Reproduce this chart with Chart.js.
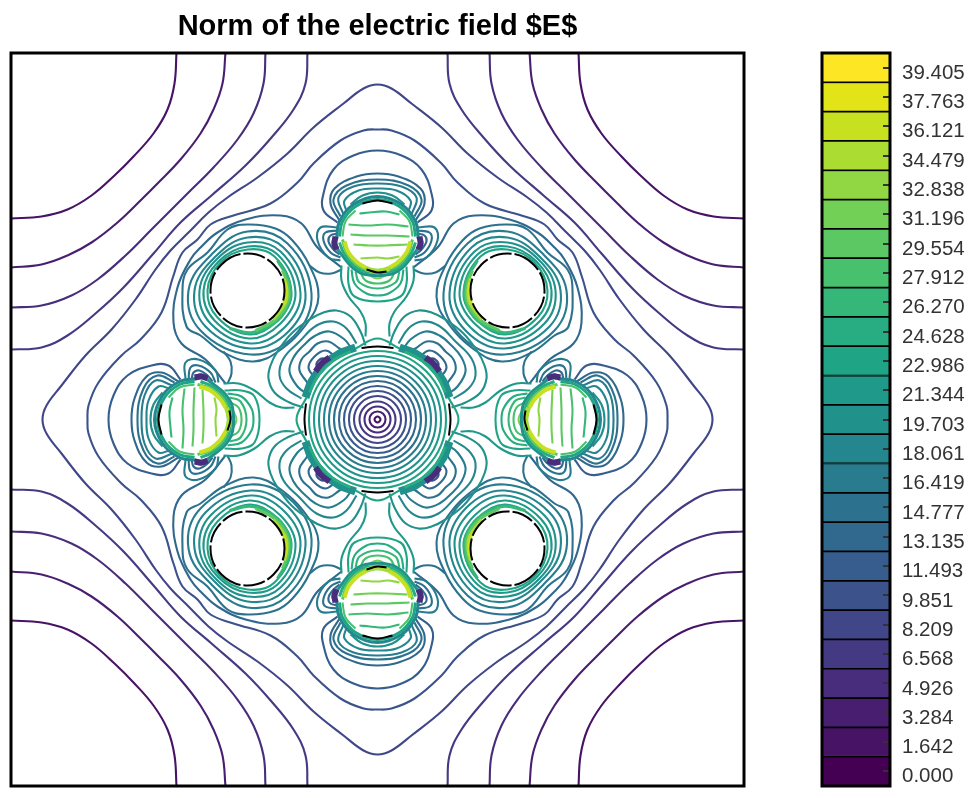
<!DOCTYPE html>
<html>
<head>
<meta charset="utf-8">
<title>Norm of the electric field</title>
<script src="https://cdn.jsdelivr.net/npm/chart.js@4"></script>
<style>
  html, body { margin: 0; padding: 0; background: #fff; }
  canvas { position: absolute; top: 0; }
  #field { left: 0; }
  #colorbar { left: 760px; }
</style>
</head>
<body>
<canvas id="field" width="760" height="798"></canvas>
<canvas id="colorbar" width="215" height="798"></canvas>
<script>
// colorbar, bottom to top
const tickLabels = ['0.000','1.642','3.284','4.926','6.568','8.209','9.851','11.493','13.135','14.777','16.419','18.061','19.703','21.344','22.986','24.628','26.270','27.912','29.554','31.196','32.838','34.479','36.121','37.763','39.405'];
const levelColors = ['#440154','#471365','#481f70','#472d7b','#443a83','#404688','#3b528b','#365d8d','#31688e','#2c728e','#287c8e','#24868e','#21918c','#1f9a8a','#20a486','#27ad81','#35b779','#47c16e','#5cc863','#73d056','#90d743','#aadc32','#c7e020','#e3e418','#fde725'];

// contours, flat x,y lists, origin in the middle of the plot
const cornerLevels = [1,2,3,4];
const cornerNE = [
[201,367,203,336,210,310,224,286,244,263,263,244,286,224,310,210,336,203,367,201],
[152,367,155,336,164,310,177,286,197,260,220,236,236,220,260,197,286,177,310,164,336,155,367,152],
[112,367,114,336,124,306,140,280,164,252,190,226,208,208,226,190,252,164,280,140,306,124,336,114,367,112],
[70,367,72,336,84,310,106,282,132,254,166,224,197,197,224,166,254,132,282,106,310,84,336,72,367,70]];
const cornerNW = [
[-201,367,-203,336,-210,310,-224,286,-244,263,-263,244,-286,224,-310,210,-336,203,-367,201],
[-152,367,-155,336,-164,310,-177,286,-197,260,-220,236,-236,220,-260,197,-286,177,-310,164,-336,155,-367,152],
[-112,367,-114,336,-124,306,-140,280,-164,252,-190,226,-208,208,-226,190,-252,164,-280,140,-306,124,-336,114,-367,112],
[-70,367,-72,336,-84,310,-106,282,-132,254,-166,224,-197,197,-224,166,-254,132,-282,106,-310,84,-336,72,-367,70]];
const cornerSE = [
[201,-367,203,-336,210,-310,224,-286,244,-263,263,-244,286,-224,310,-210,336,-203,367,-201],
[152,-367,155,-336,164,-310,177,-286,197,-260,220,-236,236,-220,260,-197,286,-177,310,-164,336,-155,367,-152],
[112,-367,114,-336,124,-306,140,-280,164,-252,190,-226,208,-208,226,-190,252,-164,280,-140,306,-124,336,-114,367,-112],
[70,-367,72,-336,84,-310,106,-282,132,-254,166,-224,197,-197,224,-166,254,-132,282,-106,310,-84,336,-72,367,-70]];
const cornerSW = [
[-201,-367,-203,-336,-210,-310,-224,-286,-244,-263,-263,-244,-286,-224,-310,-210,-336,-203,-367,-201],
[-152,-367,-155,-336,-164,-310,-177,-286,-197,-260,-220,-236,-236,-220,-260,-197,-286,-177,-310,-164,-336,-155,-367,-152],
[-112,-367,-114,-336,-124,-306,-140,-280,-164,-252,-190,-226,-208,-208,-226,-190,-252,-164,-280,-140,-306,-124,-336,-114,-367,-112],
[-70,-367,-72,-336,-84,-310,-106,-282,-132,-254,-166,-224,-197,-197,-224,-166,-254,-132,-282,-106,-310,-84,-336,-72,-367,-70]];

const outlineLevels = [5,6];
const outlines = [
[0,335,14,331,34,316,64,292,90,266,120,242,150,222,169,207,188,188,207,169,222,150,242,120,266,90,292,64,316,34,331,14,335,0,
331,-14,316,-34,292,-64,266,-90,242,-120,222,-150,207,-169,188,-188,169,-207,150,-222,120,-242,90,-266,64,-292,34,-316,14,-331,0,-335,
-14,-331,-34,-316,-64,-292,-90,-266,-120,-242,-150,-222,-169,-207,-188,-188,-207,-169,-222,-150,-242,-120,-266,-90,-292,-64,-316,-34,-331,-14,-335,0,
-331,14,-316,34,-292,64,-266,90,-242,120,-222,150,-207,169,-188,188,-169,207,-150,222,-120,242,-90,266,-64,292,-34,316,-14,331,0,335],
[0,290,14,289,37,279,64,256,80,237,107,216,144,204,167,195,180,180,195,167,204,144,216,107,237,80,256,64,279,37,289,14,290,0,
289,-14,279,-37,256,-64,237,-80,216,-107,204,-144,195,-167,180,-180,167,-195,144,-204,107,-216,80,-237,64,-256,37,-279,14,-289,0,-290,
-14,-289,-37,-279,-64,-256,-80,-237,-107,-216,-144,-204,-167,-195,-180,-180,-195,-167,-204,-144,-216,-107,-237,-80,-256,-64,-279,-37,-289,-14,-290,0,
-289,14,-279,37,-256,64,-237,80,-216,107,-204,144,-195,167,-180,180,-167,195,-144,204,-107,216,-80,237,-64,256,-37,279,-14,289,0,290]];

const holeLevels = [8,9,10,11,12,13,14,16,18,21,22];
const holeWidths = [2.1,2.1,2.1,2.1,2.1,2.1,2.1,3,3,3,3];
const holeNE = [
[36,152,60,172,76,196,97,204,132,200,160,187,177,172,187,160,200,132,204,97,196,76,172,60,152,36],
[195,129,190,150,170,167,150,190,130,195,102,191,85,179,68,154,59,123,70,97,98,69,124,58,154,67,177,84,191,93,195,129],
[189,129,166,165,130,188,90,176,66,126,84,83,127,65,177,89,189,129],
[183,129,163,162,130,182,94,172,72,126,89,88,127,71,172,93,183,129],
[178,129,161,160,130,177,97,168,77,126,93,92,127,76,167,96,178,129],
[174,129,159,158,130,173,100,165,82,127,97,96,128,81,163,99,174,129],
[170,129,157,157,130,170,103,163,86,127,100,99,128,85,160,102,170,129],
[100,159,89,139,88,119,100,99,125,87,148,91],
[95,149,89.5,134,90,117,102,100,122,89],
[93,141,90.5,129,92,117,104,100],
[92,137,91.5,127,94,115]];
const holeNW = [
[-36,152,-60,172,-76,196,-97,204,-132,200,-160,187,-177,172,-187,160,-200,132,-204,97,-196,76,-172,60,-152,36],
[-195,129,-190,150,-170,167,-150,190,-130,195,-102,191,-85,179,-68,154,-59,123,-70,97,-98,69,-124,58,-154,67,-177,84,-191,93,-195,129],
[-189,129,-166,165,-130,188,-90,176,-66,126,-84,83,-127,65,-177,89,-189,129],
[-183,129,-163,162,-130,182,-94,172,-72,126,-89,88,-127,71,-172,93,-183,129],
[-178,129,-161,160,-130,177,-97,168,-77,126,-93,92,-127,76,-167,96,-178,129],
[-174,129,-159,158,-130,173,-100,165,-82,127,-97,96,-128,81,-163,99,-174,129],
[-170,129,-157,157,-130,170,-103,163,-86,127,-100,99,-128,85,-160,102,-170,129],
[-100,159,-89,139,-88,119,-100,99,-125,87,-148,91],
[-95,149,-89.5,134,-90,117,-102,100,-122,89],
[-93,141,-90.5,129,-92,117,-104,100],
[-92,137,-91.5,127,-94,115]];
const holeSE = [
[36,-152,60,-172,76,-196,97,-204,132,-200,160,-187,177,-172,187,-160,200,-132,204,-97,196,-76,172,-60,152,-36],
[195,-129,190,-150,170,-167,150,-190,130,-195,102,-191,85,-179,68,-154,59,-123,70,-97,98,-69,124,-58,154,-67,177,-84,191,-93,195,-129],
[189,-129,166,-165,130,-188,90,-176,66,-126,84,-83,127,-65,177,-89,189,-129],
[183,-129,163,-162,130,-182,94,-172,72,-126,89,-88,127,-71,172,-93,183,-129],
[178,-129,161,-160,130,-177,97,-168,77,-126,93,-92,127,-76,167,-96,178,-129],
[174,-129,159,-158,130,-173,100,-165,82,-127,97,-96,128,-81,163,-99,174,-129],
[170,-129,157,-157,130,-170,103,-163,86,-127,100,-99,128,-85,160,-102,170,-129],
[100,-159,89,-139,88,-119,100,-99,125,-87,148,-91],
[95,-149,89.5,-134,90,-117,102,-100,122,-89],
[93,-141,90.5,-129,92,-117,104,-100],
[92,-137,91.5,-127,94,-115]];
const holeSW = [
[-36,-152,-60,-172,-76,-196,-97,-204,-132,-200,-160,-187,-177,-172,-187,-160,-200,-132,-204,-97,-196,-76,-172,-60,-152,-36],
[-195,-129,-190,-150,-170,-167,-150,-190,-130,-195,-102,-191,-85,-179,-68,-154,-59,-123,-70,-97,-98,-69,-124,-58,-154,-67,-177,-84,-191,-93,-195,-129],
[-189,-129,-166,-165,-130,-188,-90,-176,-66,-126,-84,-83,-127,-65,-177,-89,-189,-129],
[-183,-129,-163,-162,-130,-182,-94,-172,-72,-126,-89,-88,-127,-71,-172,-93,-183,-129],
[-178,-129,-161,-160,-130,-177,-97,-168,-77,-126,-93,-92,-127,-76,-167,-96,-178,-129],
[-174,-129,-159,-158,-130,-173,-100,-165,-82,-127,-97,-96,-128,-81,-163,-99,-174,-129],
[-170,-129,-157,-157,-130,-170,-103,-163,-86,-127,-100,-99,-128,-85,-160,-102,-170,-129],
[-100,-159,-89,-139,-88,-119,-100,-99,-125,-87,-148,-91],
[-95,-149,-89.5,-134,-90,-117,-102,-100,-122,-89],
[-93,-141,-90.5,-129,-92,-117,-104,-100],
[-92,-137,-91.5,-127,-94,-115]];
const holeEdges = [
[167,129,156,155,130,166,104,155,93,129,104,103,130,92,156,103,167,129],
[-167,129,-156,155,-130,166,-104,155,-93,129,-104,103,-130,92,-156,103,-167,129],
[167,-129,156,-155,130,-166,104,-155,93,-129,104,-103,130,-92,156,-103,167,-129],
[-167,-129,-156,-155,-130,-166,-104,-155,-93,-129,-104,-103,-130,-92,-156,-103,-167,-129]];

const discLevels = [1,2,3,4,5,6,7,8,9,10,11,12,13,14];
const discCircles = [
[3,0,0,3,-3,0,0,-3,3,0],
[8,0,5.7,5.7,0,8,-5.7,5.7,-8,0,-5.7,-5.7,0,-8,5.7,-5.7,8,0],
[13,0,9.2,9.2,0,13,-9.2,9.2,-13,0,-9.2,-9.2,0,-13,9.2,-9.2,13,0],
[18,0,12.7,12.7,0,18,-12.7,12.7,-18,0,-12.7,-12.7,0,-18,12.7,-12.7,18,0],
[23.5,0,16.6,16.6,0,23.5,-16.6,16.6,-23.5,0,-16.6,-16.6,0,-23.5,16.6,-16.6,23.5,0],
[28.5,0,20.2,20.2,0,28.5,-20.2,20.2,-28.5,0,-20.2,-20.2,0,-28.5,20.2,-20.2,28.5,0],
[33.5,0,23.7,23.7,0,33.5,-23.7,23.7,-33.5,0,-23.7,-23.7,0,-33.5,23.7,-23.7,33.5,0],
[38.5,0,27.2,27.2,0,38.5,-27.2,27.2,-38.5,0,-27.2,-27.2,0,-38.5,27.2,-27.2,38.5,0],
[43.5,0,30.8,30.8,0,43.5,-30.8,30.8,-43.5,0,-30.8,-30.8,0,-43.5,30.8,-30.8,43.5,0],
[48.5,0,34.3,34.3,0,48.5,-34.3,34.3,-48.5,0,-34.3,-34.3,0,-48.5,34.3,-34.3,48.5,0],
[53.5,0,37.8,37.8,0,53.5,-37.8,37.8,-53.5,0,-37.8,-37.8,0,-53.5,37.8,-37.8,53.5,0],
[58.5,0,41.4,41.4,0,58.5,-41.4,41.4,-58.5,0,-41.4,-41.4,0,-58.5,41.4,-41.4,58.5,0],
[63.5,0,44.9,44.9,0,63.5,-44.9,44.9,-63.5,0,-44.9,-44.9,0,-63.5,44.9,-44.9,63.5,0],
[68.5,0,48.4,48.4,0,68.5,-48.4,48.4,-68.5,0,-48.4,-48.4,0,-68.5,48.4,-48.4,68.5,0]];
const discBulges = [
[-22,71,0,81,22,71],[-22,-71,0,-81,22,-71],[71,-22,81,0,71,22],[-71,-22,-81,0,-71,22]];
const discEdges = [
[-16,71.5,0,73,16,71.5],[-16,-71.5,0,-73,16,-71.5],[71.5,-16,73,0,71.5,16],[-71.5,-16,-73,0,-71.5,16]];

const dimpleLevels = [12,11,10,9,8,6,12,15,3];
const dimpleWidths = [2.1,2.1,2.1,2.1,2.1,2.1,8,3,6];
const dimpleNE = [
[12,74,17,88,27,103,41,109,54,107,68,100,86,86,100,68,107,54,109,41,103,27,88,17,74,12],
[21,76,31,91,44,98,61,94,78,78,94,61,98,44,91,31,76,21],
[26,71,33,80,48,88,62,84,74,74,84,62,88,48,80,33,71,26],
[33,68,38,71,49,78,60,76,68,68,76,60,78,49,71,38,68,33],
[42,63,52,69,63,63,69,52,63,42],
[49,56,54,61,59,59,61,54,56,49],
[72,22,66,38,54,54,38,66,22,72],
[68,27,60,43,52,52,43,60,27,68],
[48,62,56,56,62,48]];
const dimpleNW = [
[-12,74,-17,88,-27,103,-41,109,-54,107,-68,100,-86,86,-100,68,-107,54,-109,41,-103,27,-88,17,-74,12],
[-21,76,-31,91,-44,98,-61,94,-78,78,-94,61,-98,44,-91,31,-76,21],
[-26,71,-33,80,-48,88,-62,84,-74,74,-84,62,-88,48,-80,33,-71,26],
[-33,68,-38,71,-49,78,-60,76,-68,68,-76,60,-78,49,-71,38,-68,33],
[-42,63,-52,69,-63,63,-69,52,-63,42],
[-49,56,-54,61,-59,59,-61,54,-56,49],
[-72,22,-66,38,-54,54,-38,66,-22,72],
[-68,27,-60,43,-52,52,-43,60,-27,68],
[-48,62,-56,56,-62,48]];
const dimpleSE = [
[12,-74,17,-88,27,-103,41,-109,54,-107,68,-100,86,-86,100,-68,107,-54,109,-41,103,-27,88,-17,74,-12],
[21,-76,31,-91,44,-98,61,-94,78,-78,94,-61,98,-44,91,-31,76,-21],
[26,-71,33,-80,48,-88,62,-84,74,-74,84,-62,88,-48,80,-33,71,-26],
[33,-68,38,-71,49,-78,60,-76,68,-68,76,-60,78,-49,71,-38,68,-33],
[42,-63,52,-69,63,-63,69,-52,63,-42],
[49,-56,54,-61,59,-59,61,-54,56,-49],
[72,-22,66,-38,54,-54,38,-66,22,-72],
[68,-27,60,-43,52,-52,43,-60,27,-68],
[48,-62,56,-56,62,-48]];
const dimpleSW = [
[-12,-74,-17,-88,-27,-103,-41,-109,-54,-107,-68,-100,-86,-86,-100,-68,-107,-54,-109,-41,-103,-27,-88,-17,-74,-12],
[-21,-76,-31,-91,-44,-98,-61,-94,-78,-78,-94,-61,-98,-44,-91,-31,-76,-21],
[-26,-71,-33,-80,-48,-88,-62,-84,-74,-74,-84,-62,-88,-48,-80,-33,-71,-26],
[-33,-68,-38,-71,-49,-78,-60,-76,-68,-68,-76,-60,-78,-49,-71,-38,-68,-33],
[-42,-63,-52,-69,-63,-63,-69,-52,-63,-42],
[-49,-56,-54,-61,-59,-59,-61,-54,-56,-49],
[-72,-22,-66,-38,-54,-54,-38,-66,-22,-72],
[-68,-27,-60,-43,-52,-52,-43,-60,-27,-68],
[-48,-62,-56,-56,-62,-48]];

const lobeLevels = [7,8,9,10,11,12,9,9,13,13,14,15,16,17,19,10,10,9,9,8,8,6,6,16,17,18,19,20,11,14,17,17,12,15,18,22,22,3,3,21];
const lobeWidths = [2.1,2.1,2.1,2.1,2.1,2.1,2.1,2.1,2.1,2.1,2.1,2.1,2.1,2.1,2.1,2.1,2.1,2.1,2.1,2.1,2.1,2.1,2.1,2.1,2.1,2.1,2.1,2.1,3,3,2,2,3,3,3,4,4,6,6,5];
const lobeTop = [
[-40,197,-54,209,-54,226,-44,250,-24,264,0,269,24,264,44,250,54,226,54,209,40,197],
[-38,199,-47,216,-43,231,-21,243,0,246,21,243,43,231,47,216,38,199],
[-37,203,-44,220,-31,234,0,240,31,234,44,220,37,203],
[-34,205,-39,222,-24,233,0,236,24,233,39,222,34,205],
[-31,208,-33,219,-19,229,0,231,19,229,33,219,31,208],
[-27,215,-15,224,0,227,15,224,27,215],
[-36,150,-46,146,-58,147,-68,154],
[36,150,46,146,58,147,68,154],
[-36,154,-36,139,-29,123,-17,108,-12,96,-12,83],
[36,154,36,139,29,123,17,108,12,96,12,83],
[-29,153,-29,136,-23,123,0,118,23,123,29,136,29,153],
[-26,150,-23,136,-11,126,0,124,11,126,23,136,26,150],
[-22,148,-18,137,0,131,18,137,22,148],
[-17,147,-12,139,0,136,12,139,17,147],
[-11,146,0,141,11,146],
[-40,192,-57,192,-60,179,-49,162,-37,159],
[40,192,57,192,60,179,49,162,37,159],
[-39,189,-52,187,-54,179,-47,167,-37,162],
[39,189,52,187,54,179,47,167,37,162],
[-39,186,-47,184,-49,178,-44,170,-38,165],
[39,186,47,184,49,178,44,170,38,165],
[-40,183,-44,180,-45,176,-42,171,-39,169],
[40,183,44,180,45,176,42,171,39,169],
[-18,206,-8,207,8,208,22,205],
[-29,195,-10,194,10,195,31,193],
[-27,185,-10,184,10,184,32,183],
[-24,175,-8,174,8,174,30,175],
[-17,161,0,162,10,161,22,163],
[-41,180,-38,198,-24,215,0,223,24,215,38,198,41,180],
[-38,183,-35,198,-22,213,0,220,22,213,35,198,38,183],
[-35,183,-32,198,-22,209],
[35,183,32,198,22,209],
[-41,172,-36,165,-25,152,-12,145,12,145,25,152,36,165,41,172],
[-38,177,-34,167,-24,154,-12,148,12,148,24,154,34,167,38,177],
[-35,180,-31,167,-21,155,-10,150,10,150,21,155,31,167,35,180],
[-33,178,-29,167,-20,157,-12,152],
[33,178,29,167,20,157,12,152],
[-42,183,-43,176,-41,170],
[42,183,43,176,41,170],
[-12,151,0,148,12,151]];
const lobeBottom = [
[-40,-197,-54,-209,-54,-226,-44,-250,-24,-264,0,-269,24,-264,44,-250,54,-226,54,-209,40,-197],
[-38,-199,-47,-216,-43,-231,-21,-243,0,-246,21,-243,43,-231,47,-216,38,-199],
[-37,-203,-44,-220,-31,-234,0,-240,31,-234,44,-220,37,-203],
[-34,-205,-39,-222,-24,-233,0,-236,24,-233,39,-222,34,-205],
[-31,-208,-33,-219,-19,-229,0,-231,19,-229,33,-219,31,-208],
[-27,-215,-15,-224,0,-227,15,-224,27,-215],
[-36,-150,-46,-146,-58,-147,-68,-154],
[36,-150,46,-146,58,-147,68,-154],
[-36,-154,-36,-139,-29,-123,-17,-108,-12,-96,-12,-83],
[36,-154,36,-139,29,-123,17,-108,12,-96,12,-83],
[-29,-153,-29,-136,-23,-123,0,-118,23,-123,29,-136,29,-153],
[-26,-150,-23,-136,-11,-126,0,-124,11,-126,23,-136,26,-150],
[-22,-148,-18,-137,0,-131,18,-137,22,-148],
[-17,-147,-12,-139,0,-136,12,-139,17,-147],
[-11,-146,0,-141,11,-146],
[-40,-192,-57,-192,-60,-179,-49,-162,-37,-159],
[40,-192,57,-192,60,-179,49,-162,37,-159],
[-39,-189,-52,-187,-54,-179,-47,-167,-37,-162],
[39,-189,52,-187,54,-179,47,-167,37,-162],
[-39,-186,-47,-184,-49,-178,-44,-170,-38,-165],
[39,-186,47,-184,49,-178,44,-170,38,-165],
[-40,-183,-44,-180,-45,-176,-42,-171,-39,-169],
[40,-183,44,-180,45,-176,42,-171,39,-169],
[-18,-206,-8,-207,8,-208,22,-205],
[-29,-195,-10,-194,10,-195,31,-193],
[-27,-185,-10,-184,10,-184,32,-183],
[-24,-175,-8,-174,8,-174,30,-175],
[-17,-161,0,-162,10,-161,22,-163],
[-41,-180,-38,-198,-24,-215,0,-223,24,-215,38,-198,41,-180],
[-38,-183,-35,-198,-22,-213,0,-220,22,-213,35,-198,38,-183],
[-35,-183,-32,-198,-22,-209],
[35,-183,32,-198,22,-209],
[-41,-172,-36,-165,-25,-152,-12,-145,12,-145,25,-152,36,-165,41,-172],
[-38,-177,-34,-167,-24,-154,-12,-148,12,-148,24,-154,34,-167,38,-177],
[-35,-180,-31,-167,-21,-155,-10,-150,10,-150,21,-155,31,-167,35,-180],
[-33,-178,-29,-167,-20,-157,-12,-152],
[33,-178,29,-167,20,-157,12,-152],
[-42,-183,-43,-176,-41,-170],
[42,-183,43,-176,41,-170],
[-12,-151,0,-148,12,-151]];
const lobeRight = [
[197,-40,209,-54,226,-54,250,-44,264,-24,269,0,264,24,250,44,226,54,209,54,197,40],
[199,-38,216,-47,231,-43,243,-21,246,0,243,21,231,43,216,47,199,38],
[203,-37,220,-44,234,-31,240,0,234,31,220,44,203,37],
[205,-34,222,-39,233,-24,236,0,233,24,222,39,205,34],
[208,-31,219,-33,229,-19,231,0,229,19,219,33,208,31],
[215,-27,224,-15,227,0,224,15,215,27],
[150,-36,146,-46,147,-58,154,-68],
[150,36,146,46,147,58,154,68],
[154,-36,139,-36,123,-29,108,-17,96,-12,83,-12],
[154,36,139,36,123,29,108,17,96,12,83,12],
[153,-29,136,-29,123,-23,118,0,123,23,136,29,153,29],
[150,-26,136,-23,126,-11,124,0,126,11,136,23,150,26],
[148,-22,137,-18,131,0,137,18,148,22],
[147,-17,139,-12,136,0,139,12,147,17],
[146,-11,141,0,146,11],
[192,-40,192,-57,179,-60,162,-49,159,-37],
[192,40,192,57,179,60,162,49,159,37],
[189,-39,187,-52,179,-54,167,-47,162,-37],
[189,39,187,52,179,54,167,47,162,37],
[186,-39,184,-47,178,-49,170,-44,165,-38],
[186,39,184,47,178,49,170,44,165,38],
[183,-40,180,-44,176,-45,171,-42,169,-39],
[183,40,180,44,176,45,171,42,169,39],
[206,-18,207,-8,208,8,205,22],
[195,-29,194,-10,195,10,193,31],
[185,-27,184,-10,184,10,183,32],
[175,-24,174,-8,174,8,175,30],
[161,-17,162,0,161,10,163,22],
[180,-41,198,-38,215,-24,223,0,215,24,198,38,180,41],
[183,-38,198,-35,213,-22,220,0,213,22,198,35,183,38],
[183,-35,198,-32,209,-22],
[183,35,198,32,209,22],
[172,-41,165,-36,152,-25,145,-12,145,12,152,25,165,36,172,41],
[177,-38,167,-34,154,-24,148,-12,148,12,154,24,167,34,177,38],
[180,-35,167,-31,155,-21,150,-10,150,10,155,21,167,31,180,35],
[178,-33,167,-29,157,-20,152,-12],
[178,33,167,29,157,20,152,12],
[183,-42,176,-43,170,-41],
[183,42,176,43,170,41],
[151,-12,148,0,151,12]];
const lobeLeft = [
[-197,-40,-209,-54,-226,-54,-250,-44,-264,-24,-269,0,-264,24,-250,44,-226,54,-209,54,-197,40],
[-199,-38,-216,-47,-231,-43,-243,-21,-246,0,-243,21,-231,43,-216,47,-199,38],
[-203,-37,-220,-44,-234,-31,-240,0,-234,31,-220,44,-203,37],
[-205,-34,-222,-39,-233,-24,-236,0,-233,24,-222,39,-205,34],
[-208,-31,-219,-33,-229,-19,-231,0,-229,19,-219,33,-208,31],
[-215,-27,-224,-15,-227,0,-224,15,-215,27],
[-150,-36,-146,-46,-147,-58,-154,-68],
[-150,36,-146,46,-147,58,-154,68],
[-154,-36,-139,-36,-123,-29,-108,-17,-96,-12,-83,-12],
[-154,36,-139,36,-123,29,-108,17,-96,12,-83,12],
[-153,-29,-136,-29,-123,-23,-118,0,-123,23,-136,29,-153,29],
[-150,-26,-136,-23,-126,-11,-124,0,-126,11,-136,23,-150,26],
[-148,-22,-137,-18,-131,0,-137,18,-148,22],
[-147,-17,-139,-12,-136,0,-139,12,-147,17],
[-146,-11,-141,0,-146,11],
[-192,-40,-192,-57,-179,-60,-162,-49,-159,-37],
[-192,40,-192,57,-179,60,-162,49,-159,37],
[-189,-39,-187,-52,-179,-54,-167,-47,-162,-37],
[-189,39,-187,52,-179,54,-167,47,-162,37],
[-186,-39,-184,-47,-178,-49,-170,-44,-165,-38],
[-186,39,-184,47,-178,49,-170,44,-165,38],
[-183,-40,-180,-44,-176,-45,-171,-42,-169,-39],
[-183,40,-180,44,-176,45,-171,42,-169,39],
[-206,-18,-207,-8,-208,8,-205,22],
[-195,-29,-194,-10,-195,10,-193,31],
[-185,-27,-184,-10,-184,10,-183,32],
[-175,-24,-174,-8,-174,8,-175,30],
[-161,-17,-162,0,-161,10,-163,22],
[-180,-41,-198,-38,-215,-24,-223,0,-215,24,-198,38,-180,41],
[-183,-38,-198,-35,-213,-22,-220,0,-213,22,-198,35,-183,38],
[-183,-35,-198,-32,-209,-22],
[-183,35,-198,32,-209,22],
[-172,-41,-165,-36,-152,-25,-145,-12,-145,12,-152,25,-165,36,-172,41],
[-177,-38,-167,-34,-154,-24,-148,-12,-148,12,-154,24,-167,34,-177,38],
[-180,-35,-167,-31,-155,-21,-150,-10,-150,10,-155,21,-167,31,-180,35],
[-178,-33,-167,-29,-157,-20,-152,-12],
[-178,33,-167,29,-157,20,-152,12],
[-183,-42,-176,-43,-170,-41],
[-183,42,-176,43,-170,41],
[-151,-12,-148,0,-151,12]];
const lobeEdges = [
[-15,216,0,219,15,216],[-11,150,0,147,9,148],
[-15,-216,0,-219,15,-216],[-11,-150,0,-147,9,-148],
[216,-15,219,0,216,15],[150,-11,147,0,148,9],
[-216,-15,-219,0,-216,15],[-150,-11,-147,0,-148,9]];

const fontName = "'Liberation Sans', Arial, sans-serif";
let fieldSets = [];

function isClosed(flat) {
    return flat.length > 6 && flat[0] === flat[flat.length - 2] && flat[1] === flat[flat.length - 1];
}

function toPoints(flat) {
    const pts = [];
    for (let i = 0; i < flat.length; i += 2) {
        pts.push({ x: flat[i], y: flat[i + 1] });
    }
    // closed loop: run on past the start, the first and last segments stay hidden
    if (isClosed(flat)) {
        pts.push({ x: flat[2], y: flat[3] });
        pts.push({ x: flat[4], y: flat[5] });
    }
    return pts;
}

function addLine(flat, color, width, dash) {
    const pts = toPoints(flat);
    const set = {
        data: pts,
        showLine: true,
        borderColor: color,
        borderWidth: width,
        borderDash: dash || [],
        pointRadius: 0,
        tension: 0.4,
        fill: false
    };
    if (isClosed(flat)) {
        set.segment = {
            borderColor: ctx => (ctx.p0DataIndex === 0 || ctx.p1DataIndex === pts.length - 1) ? 'transparent' : undefined
        };
    }
    fieldSets.push(set);
}

function addFamily(lines, levels, widths) {
    lines.forEach((line, i) => {
        addLine(line, levelColors[levels[i]], widths ? widths[i] : 2.1);
    });
}

[cornerNE, cornerNW, cornerSE, cornerSW].forEach(f => addFamily(f, cornerLevels));
addFamily(outlines, outlineLevels);
[holeNE, holeNW, holeSE, holeSW].forEach(f => addFamily(f, holeLevels, holeWidths));
addFamily(discCircles, discLevels);
[dimpleNE, dimpleNW, dimpleSE, dimpleSW].forEach(f => addFamily(f, dimpleLevels, dimpleWidths));
[lobeTop, lobeBottom, lobeRight, lobeLeft].forEach(f => addFamily(f, lobeLevels, lobeWidths));
discBulges.forEach(b => addLine(b, levelColors[14], 2.1));
holeEdges.forEach(e => addLine(e, '#000', 2, [22, 3]));
discEdges.concat(lobeEdges).forEach(e => addLine(e, '#000', 2));

// first dataset is painted last, so flip the list
fieldSets.reverse();

const framePlugin = {
    id: 'frame',
    afterDraw(chart) {
        const a = chart.chartArea;
        const ctx = chart.ctx;
        ctx.save();
        ctx.strokeStyle = '#000';
        ctx.lineWidth = 3;
        ctx.strokeRect(a.left, a.top, a.right - a.left, a.bottom - a.top);
        ctx.restore();
    }
};

new Chart(document.getElementById('field').getContext('2d'), {
    type: 'scatter',
    data: { datasets: fieldSets },
    plugins: [framePlugin],
    options: {
        responsive: false,
        animation: false,
        layout: { padding: { left: 11, right: 16, top: 0, bottom: 12 } },
        plugins: {
            legend: { display: false },
            tooltip: { enabled: false },
            title: {
                display: true,
                text: 'Norm of the electric field $E$',
                color: '#000',
                font: { family: fontName, size: 29, weight: 'bold' },
                padding: { top: 9.4, bottom: 8.8 }
            }
        },
        scales: {
            x: { display: false, min: -366.5, max: 366.5 },
            y: { display: false, min: -366.5, max: 366.5 }
        }
    }
});

new Chart(document.getElementById('colorbar').getContext('2d'), {
    type: 'bar',
    data: {
        labels: tickLabels.slice().reverse(),
        datasets: [{
            data: tickLabels.map(() => 1),
            backgroundColor: levelColors.slice().reverse(),
            borderColor: '#000',
            borderWidth: 1.2,
            borderSkipped: false,
            barPercentage: 1,
            categoryPercentage: 1
        }]
    },
    plugins: [framePlugin],
    options: {
        indexAxis: 'y',
        responsive: false,
        animation: false,
        layout: { padding: { left: 62, right: 0, top: 53, bottom: 12 } },
        plugins: { legend: { display: false }, tooltip: { enabled: false } },
        scales: {
            x: { display: false, min: 0, max: 1 },
            y: {
                position: 'right',
                afterFit(scale) {
                    scale.width = 85;
                    scale.paddingTop = 0;
                    scale.paddingBottom = 0;
                },
                border: { display: false },
                grid: { offset: false, drawOnChartArea: false, tickLength: -7, color: '#333', lineWidth: 2, z: 1 },
                ticks: {
                    autoSkip: false,
                    color: '#333',
                    padding: 19,
                    labelOffset: 5.5,
                    font: { family: fontName, size: 20.5 }
                }
            }
        }
    }
});
</script>
</body>
</html>
